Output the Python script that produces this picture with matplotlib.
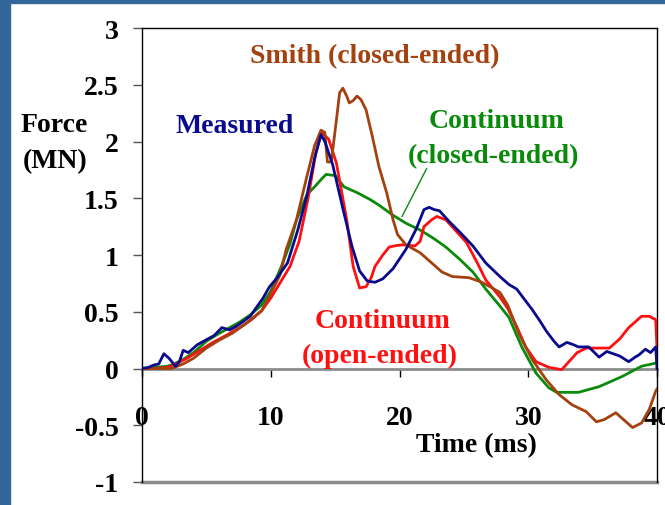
import matplotlib
matplotlib.use("Agg")
import matplotlib.pyplot as plt
from matplotlib.patches import Rectangle

plt.rcParams['font.family'] = ['Liberation Serif', 'DejaVu Serif']
plt.rcParams['font.weight'] = 'bold'

# Measured force history
t_meas = [0, 0.5, 0.9, 1.3, 1.7, 2.1, 2.6, 2.9, 3.2, 3.6, 4.3, 5.1, 5.6, 6.2, 6.8, 7.3, 7.8, 8.4,
          8.9, 9.4, 9.9, 10.5, 11.3, 12.1, 12.8, 13.4, 13.9, 14.2, 14.8, 15.6, 16.3, 16.9, 17.5,
          18.1, 18.7, 19.5, 20.5, 21.3, 21.9, 22.3, 22.7, 23.1, 23.9, 24.7, 25.7, 26.7, 27.8, 28.5,
          29.1, 29.7, 30.3, 30.9, 31.4, 32.0, 32.4, 33.0, 33.5, 33.9, 34.7, 35.5, 36.1, 36.6, 37.1,
          37.8, 38.3, 38.6, 39.1, 39.5, 39.9, 40.0]
f_meas = [0, 0.01, 0.03, 0.04, 0.13, 0.09, 0.02, 0.06, 0.16, 0.14, 0.21, 0.26, 0.29, 0.36, 0.34,
          0.37, 0.41, 0.46, 0.54, 0.62, 0.72, 0.80, 0.93, 1.22, 1.52, 1.85, 2.06, 2.00, 1.80, 1.41,
          1.08, 0.86, 0.77, 0.76, 0.79, 0.88, 1.05, 1.23, 1.40, 1.42, 1.40, 1.39, 1.29, 1.20, 1.08,
          0.93, 0.81, 0.74, 0.70, 0.61, 0.52, 0.42, 0.33, 0.24, 0.19, 0.23, 0.21, 0.19, 0.19, 0.10,
          0.15, 0.13, 0.11, 0.06, 0.10, 0.12, 0.17, 0.14, 0.19, 0.0]

# Continuum model, open-ended
t_open = [0, 1.0, 2.0, 2.8, 3.5, 4.5, 5.5, 6.5, 7.6, 8.5, 9.3, 10.0, 10.7, 11.5, 12.2, 12.9, 13.5,
          13.95, 14.5, 15.1, 15.9, 16.4, 16.9, 17.4, 17.8, 18.1, 18.7, 19.2, 19.6, 20.2, 21.2, 21.6,
          21.9, 22.5, 22.9, 23.6, 24.4, 25.2, 26.0, 26.7, 27.8, 28.4, 29.1, 29.8, 30.6, 31.6, 32.6,
          33.0, 33.8, 34.5, 36.3, 37.1, 37.8, 38.8, 39.4, 39.9, 40.0]
f_open = [0, 0.0, 0.01, 0.05, 0.09, 0.16, 0.23, 0.29, 0.36, 0.43, 0.51, 0.62, 0.75, 0.90, 1.12,
          1.50, 1.90, 2.08, 2.02, 1.81, 1.31, 0.90, 0.71, 0.72, 0.80, 0.90, 1.00, 1.07, 1.08, 1.09,
          1.08, 1.12, 1.25, 1.31, 1.34, 1.31, 1.21, 1.11, 0.94, 0.78, 0.63, 0.53, 0.37, 0.19, 0.06,
          0.01, -0.01, 0.04, 0.14, 0.18, 0.18, 0.26, 0.36, 0.46, 0.46, 0.43, 0.17]

# Continuum model, closed-ended
t_closed = [0, 1.0, 2.0, 2.5, 3.2, 4.0, 5.0, 6.0, 7.6, 8.5, 9.3, 10.0, 10.9, 11.5, 12.0, 12.8,
            13.4, 13.95, 14.3, 15.0, 15.7, 16.7, 17.7, 18.4, 19.5, 20.5, 21.6, 22.6, 23.6, 24.7,
            25.7, 26.7, 27.8, 28.5, 29.5, 30.6, 31.6, 32.2, 33.9, 35.5, 37.3, 38.8, 40.0]
f_closed = [0, 0.01, 0.02, 0.04, 0.08, 0.14, 0.24, 0.31, 0.41, 0.48, 0.56, 0.68, 0.92, 1.10, 1.31,
            1.53, 1.60, 1.67, 1.71, 1.70, 1.60, 1.55, 1.49, 1.44, 1.35, 1.28, 1.22, 1.15, 1.07,
            0.96, 0.85, 0.70, 0.55, 0.45, 0.19, -0.04, -0.17, -0.21, -0.21, -0.16, -0.07, 0.02, 0.05]

# Smith model, closed-ended
t_smith = [0, 1.0, 2.3, 3.2, 4.0, 5.0, 6.0, 7.0, 8.0, 9.3, 10.0, 10.7, 11.2, 12.0, 12.8, 13.4,
           13.9, 14.2, 14.4, 14.7, 15.1, 15.35, 15.6, 15.9, 16.1, 16.4, 16.7, 17.0, 17.4, 17.9,
           18.4, 19.0, 19.5, 19.85, 20.5, 21.6, 22.5, 23.3, 24.1, 25.4, 26.4, 27.2, 27.8, 28.4,
           29.3, 30.3, 31.4, 32.4, 33.4, 34.5, 35.3, 35.9, 36.8, 37.6, 38.1, 38.8, 39.4, 39.9, 40.0]
f_smith = [0, 0, 0.0, 0.04, 0.09, 0.18, 0.25, 0.31, 0.39, 0.51, 0.66, 0.82, 1.05, 1.31, 1.69, 1.96,
           2.10, 2.08, 1.82, 1.82, 2.19, 2.43, 2.47, 2.40, 2.34, 2.36, 2.40, 2.37, 2.28, 2.04, 1.78,
           1.55, 1.31, 1.18, 1.09, 1.02, 0.93, 0.85, 0.81, 0.80, 0.76, 0.71, 0.67, 0.56, 0.30, 0.08,
           -0.10, -0.23, -0.32, -0.38, -0.47, -0.45, -0.39, -0.47, -0.52, -0.48, -0.36, -0.20, -0.18]

x_ticks = [0, 10, 20, 30, 40]
x_labels = ['0', '10', '20', '30', '40']
y_ticks = [-1, -0.5, 0, 0.5, 1, 1.5, 2, 2.5, 3]
y_labels = ['-1', '-0.5', '0', '0.5', '1', '1.5', '2', '2.5', '3']

C_MEAS = '#0a0a8c'
C_OPEN = '#ff1010'
C_CLOSED = '#0a8a0a'
C_SMITH = '#a3410f'
GRAY = '#8c8c8c'

W, H = 665, 506
fig = plt.figure(figsize=(W / 100, H / 100), dpi=100)
fig.patch.set_facecolor('white')
# slide frame
fig.patches.append(Rectangle((0, 0), 9.5 / W, 1, transform=fig.transFigure,
                             color='#336699', zorder=0))
fig.patches.append(Rectangle((0, 1 - 4 / H), 1, 4 / H, transform=fig.transFigure,
                             color='#336699', zorder=0))

ax = fig.add_axes([142 / W, 1 - 483 / H, (657 - 142) / W, (483 - 29) / H])
ax.set_xlim(0, 40)
ax.set_ylim(-1, 3)

lw = 2.0
ax.plot(t_closed, f_closed, color=C_CLOSED, lw=lw, zorder=3)
ax.plot(t_open, f_open, color=C_OPEN, lw=lw, zorder=4)
ax.plot(t_smith, f_smith, color=C_SMITH, lw=lw, zorder=5)
ax.plot(t_meas, f_meas, color=C_MEAS, lw=lw, zorder=6)

# axes styling
for s in ('left', 'top', 'right'):
    ax.spines[s].set_color('black')
    ax.spines[s].set_linewidth(1.0)
ax.spines['bottom'].set_position(('data', 0))
ax.spines['bottom'].set_color(GRAY)
ax.spines['bottom'].set_linewidth(2.0)
ax.spines['bottom'].set_zorder(2)
ax.axhline(-1, color=GRAY, lw=2.5, clip_on=False, zorder=2)

ax.set_xticks(x_ticks)
ax.set_xticklabels(x_labels)
ax.set_yticks(y_ticks)
ax.set_yticklabels(y_labels)
ax.tick_params(axis='x', direction='out', length=6, width=1, color='black',
               pad=20, labelsize=20)
ax.tick_params(axis='y', direction='out', length=6.5, width=1, color='#555555',
               pad=10.5, labelsize=20)
for lab in ax.get_xticklabels() + ax.get_yticklabels():
    lab.set_fontweight('bold')

# axis titles
fig.text(88 / W, 1 - 132 / H, 'Force', ha='right', va='baseline', fontsize=20, weight='bold')
fig.text(88 / W, 1 - 168 / H, '(MN)', ha='right', va='baseline', fontsize=20, weight='bold')
fig.text(476 / W, 1 - 452 / H, 'Time (ms)', ha='center', va='baseline', fontsize=20, weight='bold')

# series labels
kw = dict(ha='center', va='baseline', fontsize=20, weight='bold', zorder=7)
ax.text(18.1, 2.70, 'Smith (closed-ended)', color=C_SMITH, **kw)
ax.text(7.17, 2.08, 'Measured', color=C_MEAS, **kw)
ax.text(27.5, 2.13, 'Continuum', color=C_CLOSED, **kw)
ax.text(27.3, 1.82, '(closed-ended)', color=C_CLOSED, **kw)
ax.text(18.7, 0.37, 'Continuum', color=C_OPEN, **kw)
ax.text(18.45, 0.06, '(open-ended)', color=C_OPEN, **kw)
ax.plot([22.1, 20.2], [1.76, 1.34], color=C_CLOSED, lw=1.0, zorder=7)

fig.savefig('out.png', dpi=100)
